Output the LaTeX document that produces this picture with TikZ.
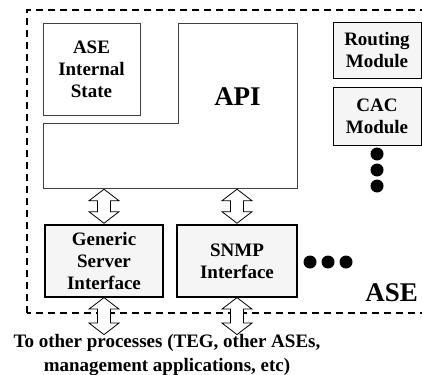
\documentclass[tikz,border=0pt]{standalone}
\usepackage{fontspec}
\setmainfont{Liberation Serif}
\usetikzlibrary{shapes.arrows}

\begin{document}
\begin{tikzpicture}[x=1pt, y=-1pt,
    font=\fontsize{19}{22}\selectfont\bfseries,
    frame/.style = {dash pattern=on 7pt off 5pt, line width=1.6pt},
    thinbox/.style = {draw=black!75, line width=0.6pt},
    module/.style = {rectangle, draw=black, line width=0.9pt, fill=black!4,
                     align=center, inner sep=0pt, minimum width=88pt},
    iface/.style = {module, line width=1.1pt, minimum height=72pt},
    dblarrow/.style = {double arrow, draw=black, line width=0.8pt, fill=white,
                       inner sep=6pt, minimum width=30pt, minimum height=34pt,
                       double arrow head extend=8.5pt, double arrow tip angle=105, sloped},
    bigdot/.style = {circle, fill=black, inner sep=0pt, minimum size=13pt}]
  \useasboundingbox (0,0) rectangle (422,374);

  % dashed ASE boundary
  \draw[frame] (27,313) -- (27,10) -- (440,10) -- (440,313) -- cycle;

  % API area with the internal state in its corner
  \draw[thinbox] (178,23) -- (297,23) -- (297,188) -- (43,188) -- (43,123) -- (178,123) -- cycle;
  \coordinate (apibot) at (43,188);
  \node (state) [rectangle, thinbox, align=center, inner sep=0pt,
                 minimum width=97pt, minimum height=92pt] at (91.5,69) {ASE\\Internal\\State};
  \node (api) [font=\fontsize{27}{30}\selectfont\bfseries] at (237.5,97) {API};

  \node (routing) [module, minimum height=56pt] at (377,50) {Routing\\Module};
  \node (cac) [module, minimum height=58pt] at (377,116) {CAC\\Module};
  \node (vdot1) [bigdot] at (377,154) {};
  \node (vdot2) [bigdot] at (377,170) {};
  \node (vdot3) [bigdot] at (377,186) {};

  \node (gsi) [iface, minimum width=118pt] at (104,261) {Generic\\Server\\Interface};
  \node (snmp) [iface, minimum width=120pt] at (237,261) {SNMP\\Interface};
  \node (hdot1) [bigdot] at (310,262) {};
  \node (hdot2) [bigdot] at (328,262) {};
  \node (hdot3) [bigdot] at (346,262) {};

  \node (ase) [anchor=east, font=\fontsize{27}{30}\selectfont\bfseries] at (421.5,293) {ASE};

  \node (others) [align=center, inner sep=0pt] at (167,355)
    {To other processes (TEG, other ASEs,\\[1pt]management applications, etc)};

  \path (gsi.north |- apibot) -- (gsi.north) node[dblarrow, midway] (up1) {};
  \path (snmp.north |- apibot) -- (snmp.north) node[dblarrow, midway] (up2) {};
  \path (gsi.south) -- (gsi.south |- others.north) node[dblarrow, midway, minimum height=37pt] (down1) {};
  \path (snmp.south) -- (snmp.south |- others.north) node[dblarrow, midway, minimum height=37pt] (down2) {};
\end{tikzpicture}
\end{document}
